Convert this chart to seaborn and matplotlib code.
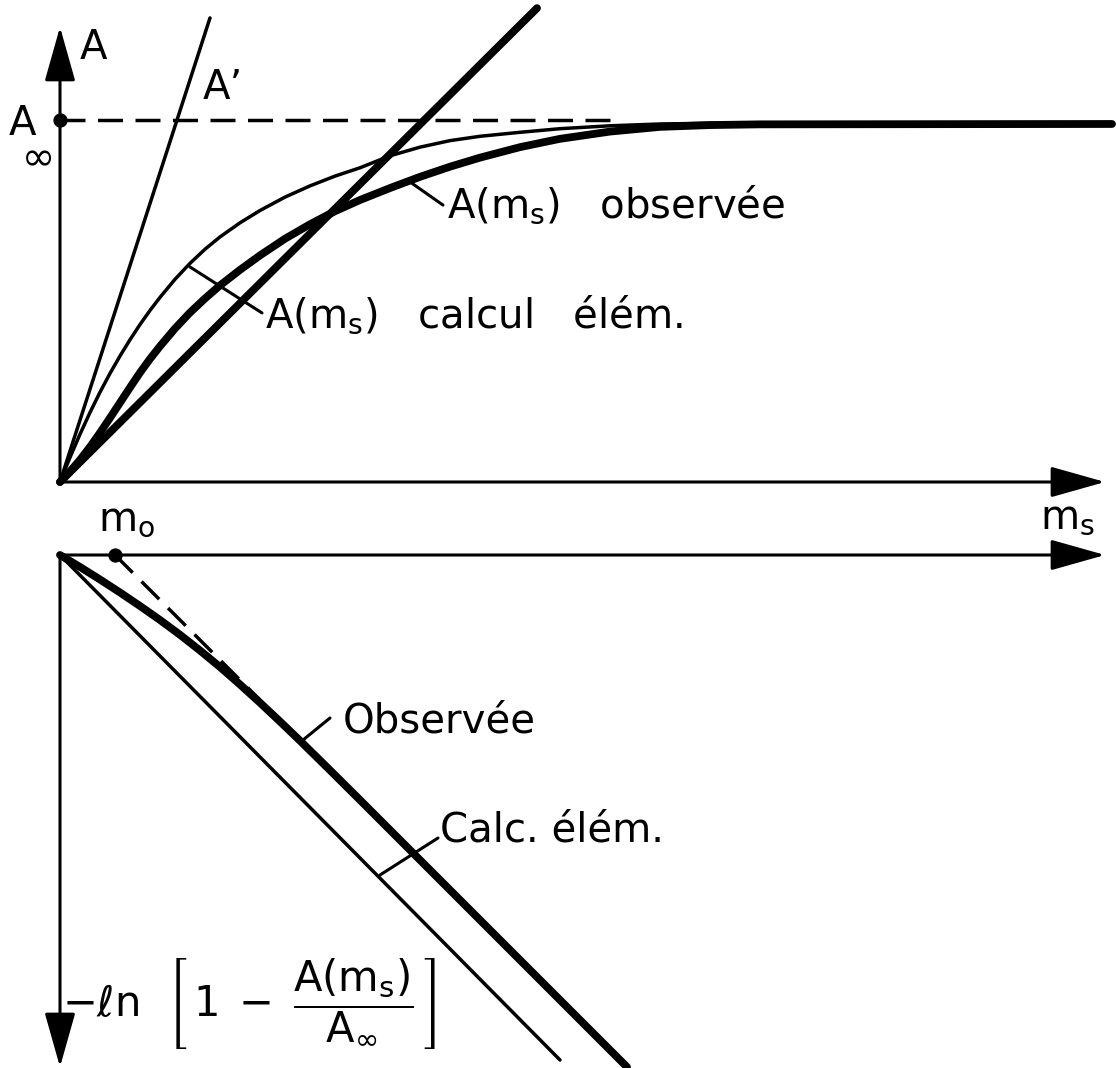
import matplotlib
matplotlib.use("Agg")
import matplotlib.pyplot as plt
import numpy as np
import pandas as pd
import seaborn as sns

# ---------------- data (schematic, arbitrary units) ----------------
# top panel: A(m_s) with A_inf = 1
calc_ms = [0, 0.1, 0.2, 0.3, 0.4, 0.5, 0.6, 0.7, 0.8, 0.9, 1.0, 1.15, 1.3, 1.45,
           1.6, 1.8, 2.0, 2.25, 2.5, 2.75, 3.0, 3.3, 3.6, 3.9, 4.2, 4.6, 5.0, 5.5,
           6.0, 6.5, 10.5]
calc_A = [0, 0.068, 0.132, 0.192, 0.248, 0.300, 0.348, 0.393, 0.435, 0.474, 0.510,
          0.560, 0.604, 0.643, 0.677, 0.716, 0.750, 0.787, 0.818, 0.845, 0.868,
          0.901, 0.925, 0.943, 0.955, 0.966, 0.976, 0.984, 0.989, 0.991, 0.992]
obs_ms = [0, 0.1, 0.2, 0.3, 0.4, 0.5, 0.6, 0.7, 0.8, 0.9, 1.0, 1.15, 1.3, 1.45,
          1.6, 1.8, 2.0, 2.25, 2.5, 2.75, 3.0, 3.3, 3.6, 3.9, 4.2, 4.6, 5.0, 5.5,
          6.0, 6.5, 7.0, 10.52]
obs_A = [0, 0.029, 0.061, 0.097, 0.136, 0.177, 0.219, 0.261, 0.302, 0.340, 0.375,
         0.424, 0.468, 0.507, 0.543, 0.586, 0.626, 0.672, 0.712, 0.748, 0.779,
         0.812, 0.843, 0.871, 0.896, 0.925, 0.948, 0.968, 0.981, 0.986, 0.988, 0.989]
tangent_ms = [0, 1.50]          # A'
tangent_A = [0, 1.282]
straight_ms = [0, 4.77]
straight_A = [0, 1.309]
A_inf = 1.0
A_inf_dash_end = 5.6

# bottom panel: -ln(1 - A/A_inf)
calc_ln_ms = [0, 5.00]
calc_ln = [0, 5.05]
obs_ln_ms = [0, 0.2, 0.4, 0.6, 0.8, 1.0, 1.2, 1.4, 1.6, 1.8, 2.0, 2.2, 2.4, 2.7,
             3.0, 5.67]
obs_ln = [0, 0.120, 0.245, 0.375, 0.510, 0.650, 0.798, 0.955, 1.120, 1.295,
          1.477, 1.665, 1.857, 2.152, 2.450, 5.120]
m0 = 0.55
asym_ms = [m0, 2.00]
asym_ln = [0, 1.45]

# ---------------- style ----------------
sns.set_theme(style="white")
plt.rcParams["font.family"] = ["DejaVu Sans"]
plt.rcParams["mathtext.fontset"] = "dejavusans"
plt.rcParams["lines.scale_dashes"] = False
plt.rcParams["text.color"] = "black"

W, H = 1117, 1068
fig = plt.figure(figsize=(W / 100, H / 100), dpi=100)
fig.patch.set_facecolor("white")
split = 520
ax_top = fig.add_axes([0, (H - split) / H, 1, split / H])
ax_bot = fig.add_axes([0, 0, 1, (H - split) / H])
for ax in (ax_top, ax_bot):
    ax.set_xlim(-0.60, 10.57)
    ax.axis("off")
ax_top.set_ylim(-0.105, 1.3315)
ax_bot.set_ylim(5.13, -0.35)

K = "black"
THICK = 5.6
THIN = 2.5
AX = 2.2
DASH = (0, (18, 9))
FS = 29


def line(ax, x, y, lw, ls="-"):
    sns.lineplot(x=x, y=y, ax=ax, color=K, lw=lw, sort=False, estimator=None,
                 linestyle=ls, solid_capstyle="round", solid_joinstyle="round",
                 clip_on=False)


def arrow(ax, start, tip):
    ax.annotate("", xy=tip, xytext=start, annotation_clip=False,
                arrowprops=dict(arrowstyle="-|>,head_length=0.85,head_width=0.24",
                                mutation_scale=40, lw=AX, color=K,
                                shrinkA=0, shrinkB=0))


# ---------------- top panel ----------------
arrow(ax_top, (0, 0), (0, 1.257))
arrow(ax_top, (0, 0), (10.45, 0))
line(ax_top, [0, A_inf_dash_end], [A_inf, A_inf], THIN, DASH)
sns.scatterplot(x=[0], y=[A_inf], ax=ax_top, s=90, color=K, edgecolor=K, clip_on=False)
line(ax_top, tangent_ms, tangent_A, THIN)
line(ax_top, calc_ms, calc_A, THIN)
line(ax_top, obs_ms, obs_A, THICK)
line(ax_top, straight_ms, straight_A, THICK)

# leaders
ax_top.plot([1.30, 2.02], [0.594, 0.467], color=K, lw=AX)
ax_top.plot([3.50, 3.83], [0.829, 0.765], color=K, lw=AX)

ax_top.text(0.20, 1.20, "A", fontsize=FS, va="center", ha="left")
ax_top.text(1.43, 1.088, "A\u2019", fontsize=FS, va="center", ha="left")
ax_top.text(-0.51, 0.94, "A\n \u221e", fontsize=FS, va="center", ha="left",
            linespacing=0.85)
ax_top.text(3.87, 0.732, r"A(m$_\mathrm{s}$)   observée", fontsize=FS,
            va="baseline", ha="left")
ax_top.text(2.05, 0.428, r"A(m$_\mathrm{s}$)   calcul   élém.", fontsize=FS,
            va="baseline", ha="left")

# ---------------- bottom panel ----------------
arrow(ax_bot, (0, 0), (10.45, 0))
arrow(ax_bot, (0, 0), (0, 5.12))
line(ax_bot, asym_ms, asym_ln, THIN, DASH)
sns.scatterplot(x=[m0], y=[0], ax=ax_bot, s=90, color=K, edgecolor=K, clip_on=False)
line(ax_bot, calc_ln_ms, calc_ln, THIN)
line(ax_bot, obs_ln_ms, obs_ln, THICK)

ax_bot.plot([2.43, 2.70], [1.85, 1.63], color=K, lw=AX)
ax_bot.plot([3.20, 3.78], [3.20, 2.83], color=K, lw=AX)

ax_bot.text(2.83, 1.78, "Observée", fontsize=FS, va="baseline", ha="left")
ax_bot.text(3.80, 2.87, "Calc. élém.", fontsize=FS, va="baseline", ha="left")
ax_bot.text(0.38, -0.25, r"m$_\mathrm{o}$", fontsize=FS, va="baseline", ha="left")
ax_bot.text(9.80, -0.27, r"m$_\mathrm{s}$", fontsize=FS, va="baseline", ha="left")
ax_bot.text(0.02, 4.49,
            r"$-\ell\mathrm{n}\ \ \left[\,1\;-\;\dfrac{\mathrm{A(m}_\mathrm{s}\mathrm{)}}{\mathrm{A}_{\infty}}\,\right]$",
            fontsize=30, va="center", ha="left")

fig.savefig("out.png", dpi=100, facecolor="white")
